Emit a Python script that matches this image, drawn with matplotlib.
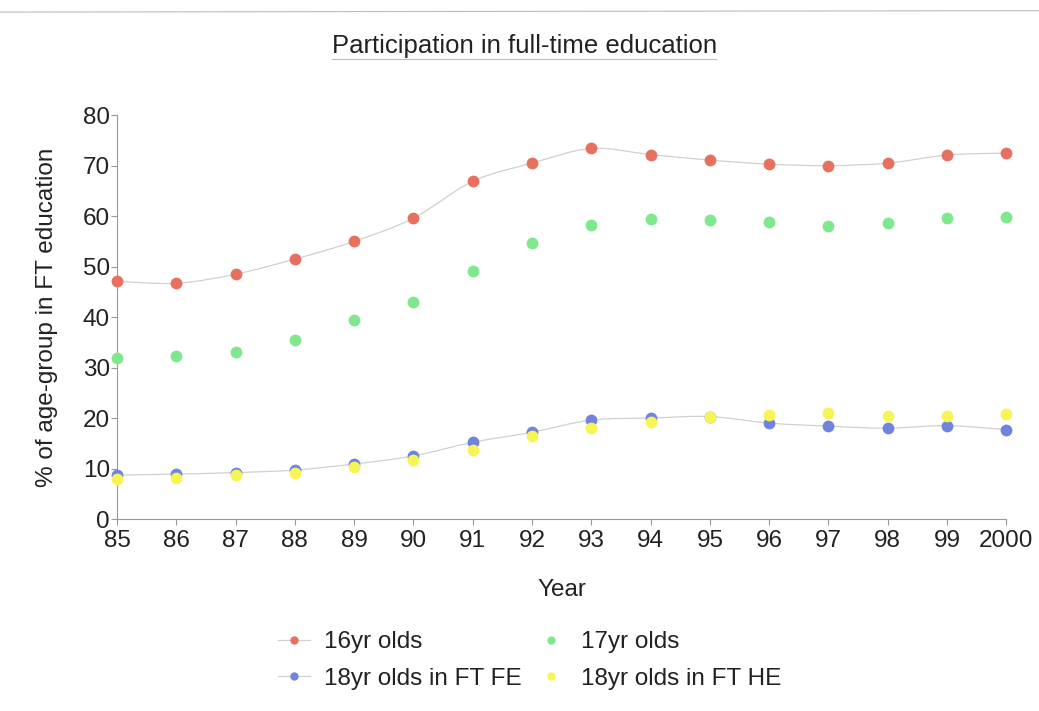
import matplotlib
matplotlib.use("Agg")
import matplotlib.pyplot as plt
from matplotlib.path import Path
from matplotlib.patches import PathPatch
from matplotlib.lines import Line2D
import numpy as np

plt.rcParams['font.family'] = ['Liberation Sans', 'DejaVu Sans']

years = [85, 86, 87, 88, 89, 90, 91, 92, 93, 94, 95, 96, 97, 98, 99, 100]
year_labels = ["85", "86", "87", "88", "89", "90", "91", "92", "93", "94",
               "95", "96", "97", "98", "99", "2000"]
age16 = [47.1, 46.7, 48.5, 51.5, 55.0, 59.6, 66.9, 70.5, 73.4, 72.2, 71.1, 70.3, 70.0, 70.5, 72.1, 72.5]
age17 = [31.9, 32.3, 33.1, 35.4, 39.4, 43.0, 49.1, 54.6, 58.2, 59.4, 59.2, 58.8, 58.0, 58.6, 59.6, 59.8]
age18_fe = [8.7, 8.9, 9.2, 9.7, 10.9, 12.5, 15.2, 17.2, 19.6, 20.0, 20.3, 19.0, 18.4, 18.0, 18.5, 17.7]
age18_he = [7.9, 8.2, 8.7, 9.1, 10.3, 11.7, 13.6, 16.4, 18.0, 19.2, 20.2, 20.6, 21.0, 20.4, 20.4, 20.8]

c16 = "#E8705E"
c17 = "#80E88C"
c18fe = "#7083DD"
c18he = "#F7F455"
line_c = "#d0d0d0"
txt_c = "#222222"

fig = plt.figure(figsize=(10.39, 7.11), dpi=100)
ax = fig.add_axes([0.1126, 0.27, 0.856, 0.568])


def smooth_path(xs, ys):
    xs = np.asarray(xs, float)
    ys = np.asarray(ys, float)
    verts = [(xs[0], ys[0])]
    codes = [Path.MOVETO]
    n = len(xs)
    for i in range(n - 1):
        p0 = np.array([xs[max(i - 1, 0)], ys[max(i - 1, 0)]])
        p1 = np.array([xs[i], ys[i]])
        p2 = np.array([xs[i + 1], ys[i + 1]])
        p3 = np.array([xs[min(i + 2, n - 1)], ys[min(i + 2, n - 1)]])
        c1 = p1 + (p2 - p0) / 6.0
        c2 = p2 - (p3 - p1) / 6.0
        verts += [tuple(c1), tuple(c2), tuple(p2)]
        codes += [Path.CURVE4] * 3
    return Path(verts, codes)


for ys in (age16, age18_fe):
    ax.add_patch(PathPatch(smooth_path(years, ys), facecolor='none',
                           edgecolor=line_c, lw=0.9, zorder=1))

ms = 8.5
ax.plot(years, age16, 'o', color=c16, ms=ms, mec='none', zorder=3, clip_on=False)
ax.plot(years, age17, 'o', color=c17, ms=ms, mec='none', zorder=3, clip_on=False)
ax.plot(years, age18_fe, 'o', color=c18fe, ms=ms, mec='none', zorder=3, clip_on=False)
ax.plot(years, age18_he, 'o', color=c18he, ms=ms, mec='none', zorder=4, clip_on=False)

ax.set_xlim(85, 100)
ax.set_ylim(0, 80)
ax.set_xticks(years)
ax.set_xticklabels(year_labels)
ax.set_yticks(range(0, 81, 10))
for s in ("top", "right"):
    ax.spines[s].set_visible(False)
for s in ("left", "bottom"):
    ax.spines[s].set_color("#999999")
    ax.spines[s].set_linewidth(0.8)
ax.tick_params(axis='both', colors="#999999", length=4, width=0.8,
               labelsize=17.5, labelcolor=txt_c)
ax.tick_params(axis='x', pad=4)
ax.tick_params(axis='y', pad=1)
ax.set_xlabel("Year", fontsize=17.5, color=txt_c, labelpad=19)
ax.set_ylabel("% of age-group in FT education", fontsize=17.5, color=txt_c, labelpad=18)

fig.text(0.505, 0.935, "Participation in full-time education", ha='center',
         va='center', fontsize=18.5, color=txt_c)
fig.add_artist(Line2D([0.32, 0.689], [0.917, 0.917], color="#bbbbbb", lw=0.8))
fig.add_artist(Line2D([0.0, 1.0], [0.983, 0.985], color="#bbbbbb", lw=0.8))

handles = [
    Line2D([], [], color=line_c, lw=0.9, marker='o', mfc=c16, mec='none', ms=6),
    Line2D([], [], color=line_c, lw=0.9, marker='o', mfc=c18fe, mec='none', ms=6),
    Line2D([], [], color='none', marker='o', mfc=c17, mec='none', ms=6),
    Line2D([], [], color='none', marker='o', mfc=c18he, mec='none', ms=6),
]
labels = ["16yr olds", "18yr olds in FT FE", "17yr olds", "18yr olds in FT HE"]
fig.legend(handles, labels, loc='center', bbox_to_anchor=(0.51, 0.071), ncol=2,
           frameon=False, fontsize=17.5, handlelength=1.3, handletextpad=0.6,
           columnspacing=0.55, labelspacing=0.6, labelcolor=txt_c)

fig.savefig("out.png", dpi=100, facecolor='white')
